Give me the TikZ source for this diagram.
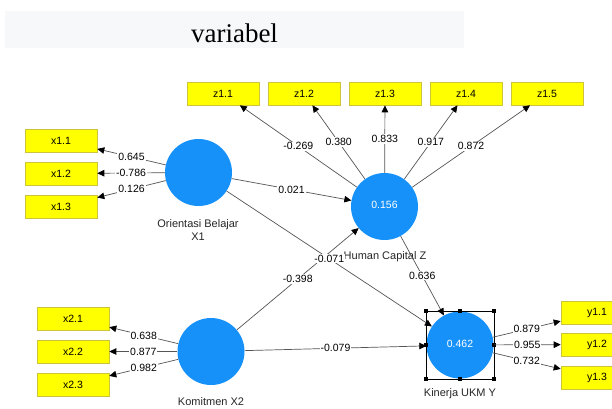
\documentclass[tikz,border=0pt]{standalone}
\usepackage{fontspec}
\setmainfont{Liberation Sans}
\newfontfamily\titlefont{Liberation Serif}
\usetikzlibrary{arrows.meta}
\definecolor{lvblue}{RGB}{22,145,250}
\definecolor{indyellow}{RGB}{255,255,0}
\definecolor{indborder}{RGB}{205,195,60}
\definecolor{linegray}{RGB}{85,85,85}
\definecolor{titlebg}{RGB}{247,248,250}
\begin{document}
\begin{tikzpicture}[x=1pt,y=-1pt,
  latent/.style={circle,fill=lvblue,minimum size=67pt,inner sep=0pt,text=white,font=\fontsize{10.5}{12}\selectfont},
  indicator/.style={rectangle,fill=indyellow,draw=indborder,line width=0.6pt,minimum width=72pt,minimum height=23pt,inner sep=0pt,font=\fontsize{10.5}{12}\selectfont},
  conn/.style={draw=linegray,line width=0.7pt,-{Triangle[length=7pt,width=6.5pt,color=black]}},
  coef/.style={fill=white,inner sep=1pt,font=\fontsize{10.5}{12}\selectfont,text=black},
  lvlabel/.style={font=\fontsize{11}{12.5}\selectfont,text=black!85,align=center},
  handle/.style={rectangle,fill=black,minimum size=4pt,inner sep=0pt}
]
\clip (0,0) rectangle (612,408);
\fill[white] (0,0) rectangle (612,408);

% title
\node[fill=titlebg,minimum width=459pt,minimum height=37pt,inner sep=0pt] (titlebar) at (234.5,29.5) {};
\node[anchor=base,inner sep=0pt,font=\titlefont\fontsize{27}{30}\selectfont] (titletext) at (234.5,42) {variabel};

% latent variables
\node[latent] (X1) at (198.5,172.5) {};
\node[latent] (Z) at (384.5,206.5) {\raisebox{3pt}{0.156}};
\node[latent] (X2) at (211,351.5) {};
\node[latent] (Y) at (460,345) {\raisebox{3pt}{0.462}};

\node[lvlabel] (lX1) at (198,230) {Orientasi Belajar\\X1};
\node[lvlabel] (lZ) at (385,257) {Human Capital Z};
\node[lvlabel] (lX2) at (211,402) {Komitmen X2};
\node[lvlabel] (lY) at (460,394) {Kinerja UKM Y};

% selection frame
\node[draw=black,line width=0.6pt,minimum width=68pt,minimum height=68pt,inner sep=0pt] (sel) at (460,345) {};
\foreach \a in {north west,north,north east,east,south east,south,south west,west}
  \node[handle] at (sel.\a) {};

% indicators
\node[indicator] (x11) at (61,140.5) {x1.1};
\node[indicator] (x12) at (61,173.5) {x1.2};
\node[indicator] (x13) at (61,206.5) {x1.3};
\node[indicator] (x21) at (73,318.5) {x2.1};
\node[indicator] (x22) at (73,351.5) {x2.2};
\node[indicator] (x23) at (73,384.5) {x2.3};
\node[indicator] (z11) at (223,93.5) {z1.1};
\node[indicator] (z12) at (304,93.5) {z1.2};
\node[indicator] (z13) at (385,93.5) {z1.3};
\node[indicator] (z14) at (466,93.5) {z1.4};
\node[indicator] (z15) at (547,93.5) {z1.5};
\node[indicator] (y11) at (597,312.5) {y1.1};
\node[indicator] (y12) at (597,344.5) {y1.2};
\node[indicator] (y13) at (597,377.5) {y1.3};

% outer loadings
\draw[conn] (X1) -- node[coef] {0.645} (x11);
\draw[conn] (X1) -- node[coef] {-0.786} (x12);
\draw[conn] (X1) -- node[coef] {0.126} (x13);
\draw[conn] (X2) -- node[coef] {0.638} (x21);
\draw[conn] (X2) -- node[coef] {0.877} (x22);
\draw[conn] (X2) -- node[coef] {0.982} (x23);
\draw[conn] (Z) -- node[coef] {-0.269} (z11);
\draw[conn] (Z) -- node[coef] {0.380} (z12);
\draw[conn] (Z) -- node[coef] {0.833} (z13);
\draw[conn] (Z) -- node[coef] {0.917} (z14);
\draw[conn] (Z) -- node[coef] {0.872} (z15);
\draw[conn] (Y) -- node[coef] {0.879} (y11);
\draw[conn] (Y) -- node[coef] {0.955} (y12);
\draw[conn] (Y) -- node[coef] {0.732} (y13);

% inner model
\draw[conn] (X1) -- node[coef] {0.021} (Z);
\draw[conn] (X2) -- node[coef] {-0.398} (Z);
\draw[conn] (X2) -- node[coef] {-0.079} (Y);
\draw[conn] (Z) -- node[coef] {0.636} (Y);
\draw[conn] (X1) -- node[coef] {-0.071} (Y);
\end{tikzpicture}
\end{document}
